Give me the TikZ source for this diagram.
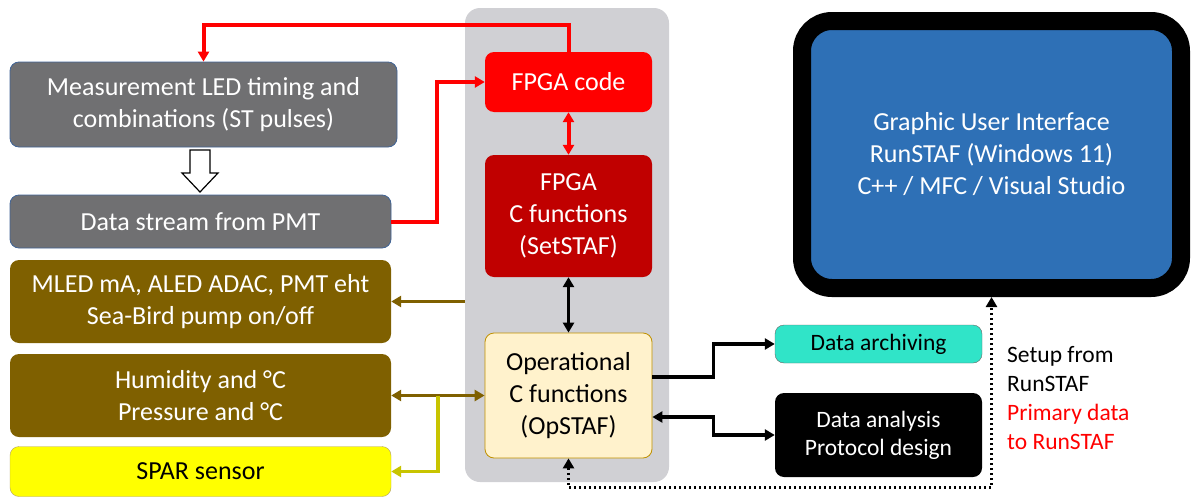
\documentclass[tikz,border=0pt]{standalone}
\usepackage{fontspec}
\setmainfont{Carlito}
\usetikzlibrary{arrows.meta}
\definecolor{ledgray}{RGB}{112,112,114}
\definecolor{ledblue}{RGB}{65,100,150}
\definecolor{olivebox}{RGB}{127,96,0}
\definecolor{sparyellow}{RGB}{255,255,0}
\definecolor{yline}{RGB}{200,196,0}
\definecolor{fpgared}{RGB}{255,0,0}
\definecolor{fpgadark}{RGB}{192,0,0}
\definecolor{opcream}{RGB}{255,242,204}
\definecolor{opgold}{RGB}{191,144,0}
\definecolor{archteal}{RGB}{48,228,200}
\definecolor{guiblue}{RGB}{46,112,182}
\definecolor{panelgray}{RGB}{208,208,212}

\begin{document}
\begin{tikzpicture}[x=1pt,y=-1pt,>={Triangle[length=10pt,width=11pt]},
	box/.style={rectangle,rounded corners=9pt,align=center,inner sep=0pt,text=white,font=\fontsize{26}{32}\selectfont},
	smallbox/.style={box,font=\fontsize{23.5}{28}\selectfont},
	redline/.style={draw=fpgared,line width=4pt},
	blackline/.style={draw=black,line width=3.2pt},
	oliveline/.style={draw=olivebox,line width=3.8pt},
	yellowline/.style={draw=yline,line width=3.5pt},
	dotline/.style={draw=black,line width=3pt,dash pattern=on 2.5pt off 2.5pt}]
	\useasboundingbox (0,0) rectangle (1192,498);
	
	% grey panel behind the STAF functions
	\node[fill=panelgray,rounded corners=15pt,minimum width=204,minimum height=474,inner sep=0pt] (panel) at (567,245) {};
	
	% left column
	\node[box,fill=ledgray,draw=ledblue,thick,minimum width=387,minimum height=85] (meas) at (203.5,104.5) {Measurement LED timing and\\combinations (ST pulses)};
	\node[box,fill=ledgray,draw=ledblue,thick,minimum width=381,minimum height=53] (pmt) at (200.5,221.5) {Data stream from PMT};
	\node[box,fill=olivebox,minimum width=381,minimum height=83] (mled) at (200.5,301.5) {MLED mA, ALED ADAC, PMT eht\\Sea-Bird pump on/off};
	\node[box,fill=olivebox,minimum width=381,minimum height=83] (hum) at (200.5,395.5) {Humidity and °C\\Pressure and °C};
	\node[box,fill=sparyellow,draw=olivebox!60,text=black,minimum width=381,minimum height=50] (spar) at (200.5,471.5) {SPAR sensor};
	
	% hollow arrow
	\draw[line width=1.2pt,fill=white] (190,150) -- (210,150) -- (210,173) -- (218,173) -- (200,192) -- (182,173) -- (190,173) -- cycle;
	
	% middle column
	\node[box,fill=fpgared,minimum width=167,minimum height=60] (fpga) at (568.5,82) {FPGA code};
	\node[box,fill=fpgadark,minimum width=167,minimum height=122] (fpgac) at (568.5,216) {FPGA\\C functions\\(SetSTAF)};
	\node[box,fill=opcream,draw=opgold,thick,text=black,minimum width=167,minimum height=125] (opstaf) at (568.5,395.5) {Operational\\C functions\\(OpSTAF)};
	
	% right side
	\node[smallbox,fill=archteal,draw=black!60,text=black,minimum width=207,minimum height=38] (archive) at (878.5,344) {Data archiving};
	\node[smallbox,fill=black,minimum width=207,minimum height=84] (analysis) at (878.5,435) {Data analysis\\Protocol design};
	\node[box,fill=guiblue,draw=black,line width=18pt,rounded corners=30pt,minimum width=379,minimum height=267] (gui) at (991.5,154.5) {Graphic User Interface\\RunSTAF (Windows 11)\\C++ / MFC / Visual Studio};
	\node[align=left,anchor=west,inner sep=0pt,font=\fontsize{23.5}{28.7}\selectfont] (setup) at (1007,398) {Setup from\\RunSTAF\\\textcolor{fpgared}{Primary data}\\\textcolor{fpgared}{to RunSTAF}};
	
	\coordinate (split) at (438,395.5);
	
	\draw[redline,->] (fpga.north) -- ++(0,-27) -| (meas.north);
	\draw[redline,->] (pmt.east) -- (437,221.5) |- (fpga.west);
	\draw[redline,<->] (fpga.south) -- (fpgac.north);
	\draw[blackline,<->] (fpgac.south) -- (opstaf.north);
	\draw[oliveline,->] (panel.west |- mled.east) -- (mled.east);
	\draw[oliveline,<->] (hum.east) -- (opstaf.west);
	\draw[yellowline,->] (split) |- (spar.east);
	\draw[blackline,->] ([yshift=18.5pt]opstaf.east) -- ++(61,0) |- (archive.west);
	\draw[blackline,<->] ([yshift=-21.5pt]opstaf.east) -- ++(61,0) |- (analysis.west);
	\draw[dotline,<->] (opstaf.south) -- ++(0,29) -| (gui.south);
	
\end{tikzpicture}
\end{document}
